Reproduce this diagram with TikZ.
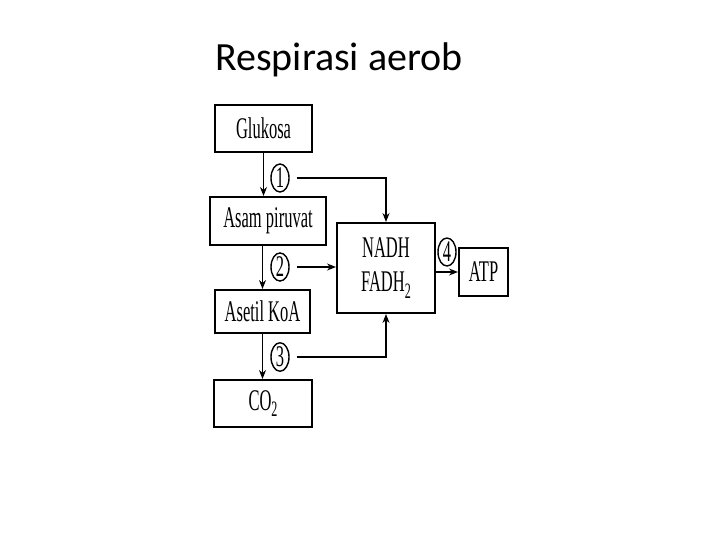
\documentclass[tikz,border=0pt]{standalone}
\usepackage{fontspec}
\usepackage{graphicx}
\setmainfont{Liberation Serif}
\newfontfamily\titlefont{Carlito}
\usetikzlibrary{arrows.meta,shapes.geometric}
\newcommand{\narrow}[1]{\scalebox{0.55}[1]{#1}}

\tikzset{
  box/.style={rectangle,draw,line width=2pt,font=\fontsize{30}{32}\selectfont},
  num/.style={ellipse,draw,line width=1.4pt,minimum width=18pt,minimum height=28pt,inner sep=0pt,font=\fontsize{30}{32}\selectfont},
  flow/.style={line width=1.3pt,-{Stealth[length=9pt,width=7pt]}},
  side/.style={line width=1.3pt,shorten <=7pt,-{Stealth[length=9pt,width=7pt]}}
}

\begin{document}
\begin{tikzpicture}[x=1pt,y=-1pt]
\useasboundingbox (0,0) rectangle (720,540);

\node (title) at (339,60) {\titlefont\fontsize{40}{44}\selectfont Respirasi aerob};

\begin{scope}[every node/.style={box}]
\node[minimum width=97pt,minimum height=47pt] (glu) at (263.5,128.5) {\narrow{Glukosa}};
\node[minimum width=116pt,minimum height=48pt] (piru) at (268,221) {\narrow{Asam piruvat}};
\node[minimum width=95pt,minimum height=43pt] (koa) at (262.5,311.5) {\narrow{Asetil KoA}};
\node[minimum width=98pt,minimum height=47pt] (co) at (263,403.5) {\narrow{CO\raisebox{-0.45ex}{\fontsize{22}{24}\selectfont 2}}};
\node[minimum width=98pt,minimum height=90pt,align=center,inner sep=0pt] (nadh) at (386,268) {\narrow{NADH}\\[2pt]\narrow{FADH\raisebox{-0.45ex}{\fontsize{22}{24}\selectfont 2}}};
\node[minimum width=49pt,minimum height=48pt] (atp) at (483.5,272) {\narrow{ATP}};
\end{scope}

\begin{scope}[every node/.style={num}]
\node (n1) at (280,178) {\narrow{1}};
\node (n2) at (280,267) {\narrow{2}};
\node (n3) at (280,357) {\narrow{3}};
\node (n4) at (447,252) {\narrow{4}};
\end{scope}

\draw[flow] (glu.south) -- (glu.south |- piru.north);
\draw[flow] (piru.south -| koa.north) -- (koa.north);
\draw[flow] (koa.south) -- (koa.south |- co.north);

\draw[side] (n1.east) -| (nadh.north);
\draw[side] (n2.east) -- (n2.east -| nadh.west);
\draw[side] (n3.east) -| (nadh.south);
\draw[flow] (nadh.east |- atp.west) -- (atp.west);

\end{tikzpicture}
\end{document}
